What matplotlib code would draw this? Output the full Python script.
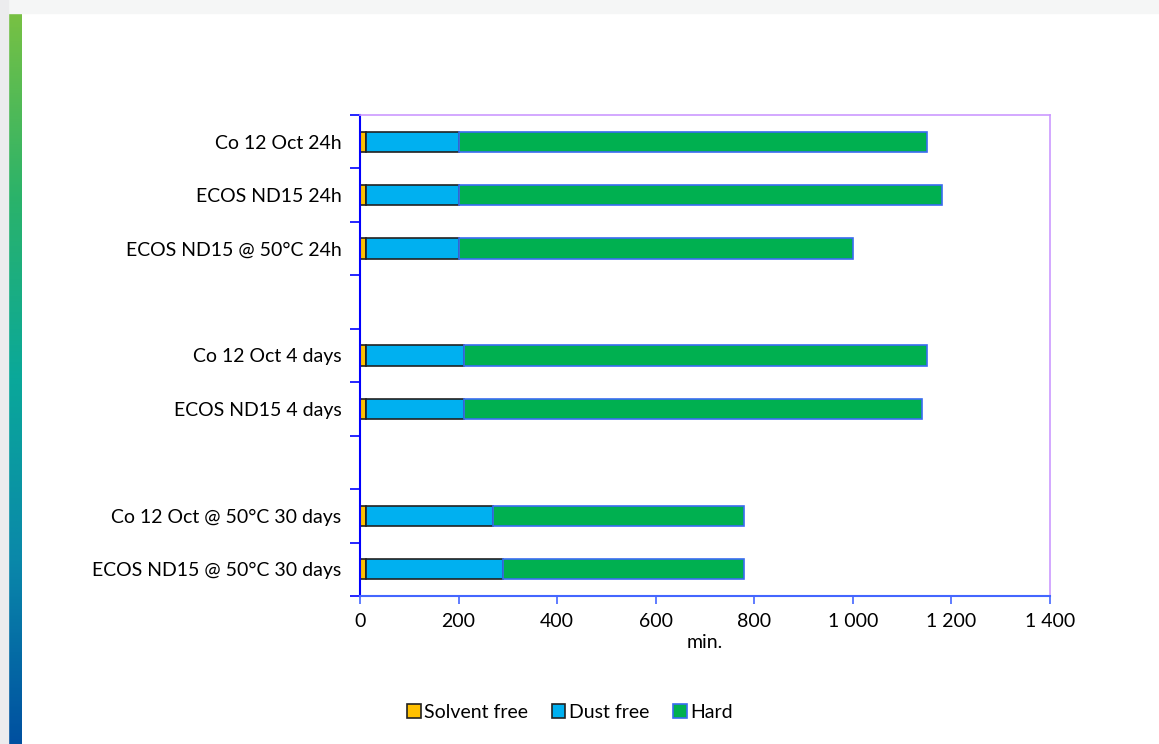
import matplotlib.pyplot as plt
import numpy as np
from matplotlib.colors import LinearSegmentedColormap
from matplotlib.ticker import FuncFormatter

# categories from top to bottom ("" = empty spacer slot)
categories = ["Co 12 Oct 24h", "ECOS ND15 24h", "ECOS ND15 @ 50°C 24h", "",
              "Co 12 Oct 4 days", "ECOS ND15 4 days", "",
              "Co 12 Oct @ 50°C 30 days", "ECOS ND15 @ 50°C 30 days"]
solvent_free = [12, 12, 12, 0, 12, 12, 0, 12, 12]
dust_free_end = [200, 200, 200, 0, 210, 210, 0, 270, 290]
hard_end = [1150, 1180, 1000, 0, 1150, 1140, 0, 780, 780]

series_names = ["Solvent free", "Dust free", "Hard"]

plt.rcParams['font.family'] = ['Lato', 'DejaVu Sans']

fig = plt.figure(figsize=(11.59, 7.44), dpi=100)
W, H = 1159, 744

# page decoration: light top strip, gradient bar at left
fig.patches.append(plt.Rectangle((0, 1 - 13 / H), 1, 13 / H, transform=fig.transFigure,
                                 color="#f5f6f6", zorder=0))
fig.patches.append(plt.Rectangle((0, 0), 8 / W, 1, transform=fig.transFigure,
                                 color="#ececee", zorder=0))
gax = fig.add_axes([8 / W, 0, 14 / W, 1 - 13 / H])
grad = LinearSegmentedColormap.from_list(
    "side", ["#78c143", "#2bb36a", "#0aa89a", "#0a88aa", "#0050a0"])
gax.imshow(np.linspace(0, 1, 256).reshape(-1, 1), aspect="auto", cmap=grad)
gax.axis("off")

ax = fig.add_axes([360 / W, 1 - 596 / H, 690 / W, 481 / H])

y = np.arange(len(categories))
sf = np.array(solvent_free)
df = np.array(dust_free_end) - sf
hd = np.array(hard_end) - np.array(dust_free_end)
mask = np.array(hard_end) > 0
h = 0.38

ax.barh(y[mask], sf[mask], height=h, color="#ffc000", edgecolor="#222222", lw=1.2,
        label=series_names[0])
ax.barh(y[mask], df[mask], left=sf[mask], height=h, color="#00b0f0", edgecolor="#222222",
        lw=1.2, label=series_names[1])
ax.barh(y[mask], hd[mask], left=np.array(dust_free_end)[mask], height=h, color="#00b050",
        edgecolor="#3a6cf0", lw=1.2, label=series_names[2])

ax.set_ylim(len(categories) - 0.5, -0.5)
ax.set_xlim(0, 1400)
ax.set_xticks(range(0, 1401, 200))
ax.xaxis.set_major_formatter(FuncFormatter(lambda v, p: f"{int(v):,}".replace(",", " ")))

ax.set_yticks(y)
ax.set_yticklabels(categories)
ax.set_yticks(np.arange(-0.5, len(categories), 1), minor=True)
ax.tick_params(axis="y", which="major", length=0, labelsize=14, pad=13.5)
ax.tick_params(axis="y", which="minor", length=7, color="#0000ff", width=1.2)
ax.tick_params(axis="x", length=6, color="#4466ff", width=1.2, labelsize=14, pad=6)

ax.spines["left"].set_color("#0000ff")
ax.spines["left"].set_linewidth(1.5)
ax.spines["bottom"].set_color("#4466ff")
ax.spines["bottom"].set_linewidth(1.5)
for s in ("top", "right"):
    ax.spines[s].set_color("#cc99ff")
    ax.spines[s].set_linewidth(1.2)

ax.set_xlabel("min.", fontsize=14, labelpad=3)

leg = fig.legend(loc="center", bbox_to_anchor=(570 / W, 1 - 712 / H), ncol=3,
                 frameon=False, fontsize=14, handlelength=0.7, handleheight=0.7,
                 handletextpad=0.2, columnspacing=1.2)

fig.savefig("out.png", dpi=100)
